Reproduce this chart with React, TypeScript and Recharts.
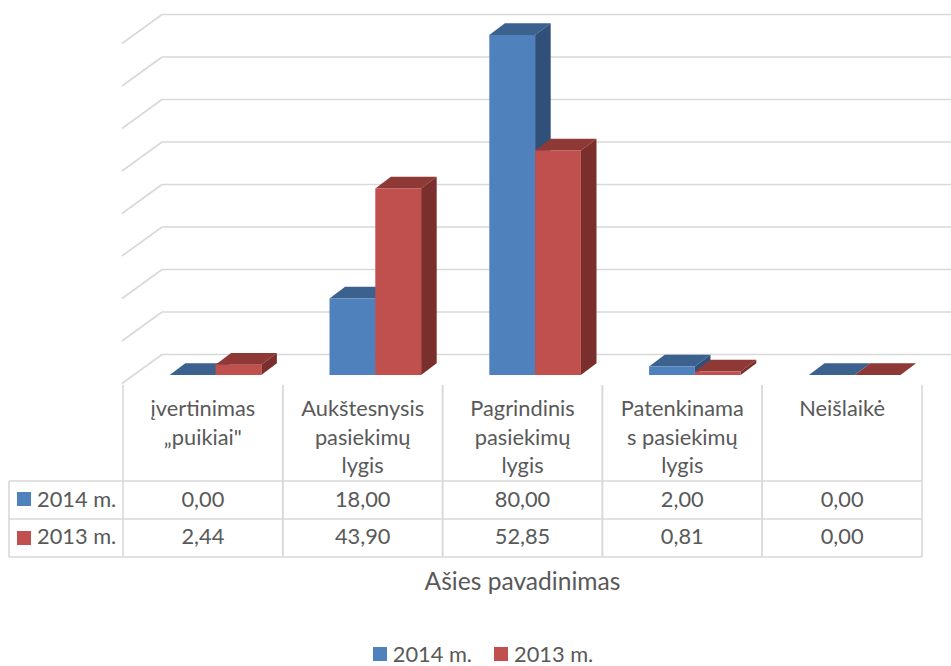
import React from 'react';
import { BarChart, Bar, XAxis, YAxis, CartesianGrid, Legend } from 'recharts';

const categories = ['įvertinimas\n„puikiai"', 'Aukštesnysis\npasiekimų\nlygis', 'Pagrindinis\npasiekimų\nlygis', 'Patenkinama\ns pasiekimų\nlygis', 'Neišlaikė'];
const values2014 = [0, 18, 80, 2, 0];
const values2013 = [2.44, 43.9, 52.85, 0.81, 0];
const axisTicks = [0, 10, 20, 30, 40, 50, 60, 70, 80];

const data = categories.map((name, i) => ({ name, y2014: values2014[i], y2013: values2013[i] }));

const FONT = 'Lato, sans-serif';
const TEXT = '#595959';
const LINE = '#d9d9d9';
const BLUE = '#4f81bd';
const RED = '#c0504d';
const FS = 21.8;

// depth of the fake 3d
const DX = 15.6;
const DY = 11.7;

const fmt = (v: number) => v.toFixed(2).replace('.', ',');

const prism = (top: string, side: string) => (props: any) => {
    const { x, y, width, height, fill } = props;
    const r = x + width;
    const b = y + height;
    return (
        <g>
            <polygon points={`${x},${y} ${x + DX},${y - DY} ${r + DX},${y - DY} ${r},${y}`} fill={top} />
            <polygon points={`${r},${y} ${r + DX},${y - DY} ${r + DX},${b - DY} ${r},${b}`} fill={side} />
            <rect x={x} y={y} width={width} height={height} fill={fill} />
        </g>
    );
};

const wallLine = (props: any) => {
    const { y1, key } = props;
    return (
        <g key={key ?? y1}>
            <line x1={122} y1={y1 + 8.5} x2={162} y2={y1 - 20.5} stroke={LINE} strokeWidth={1.6} />
            <line x1={162} y1={y1 - 20.5} x2={951} y2={y1 - 20.5} stroke={LINE} strokeWidth={1.6} />
        </g>
    );
};

// one column of the data table under the plot
const TableColumn = (props: any) => {
    const { x, payload, index } = props;
    const cx = x - 12.7;
    const left = cx - 79.9;
    const right = cx + 79.9;
    const lines = String(payload.value).split('\n');
    return (
        <g fontFamily={FONT} fontSize={FS} fill={TEXT} textAnchor="middle">
            <line x1={left} y1={385} x2={left} y2={557} stroke={LINE} strokeWidth={1.6} />
            <line x1={right} y1={385} x2={right} y2={557} stroke={LINE} strokeWidth={1.6} />
            {[481, 519, 557].map((ly) => (
                <line key={ly} x1={left} y1={ly} x2={right} y2={ly} stroke={LINE} strokeWidth={1.6} />
            ))}
            {lines.map((t, i) => (
                <text key={i} x={cx} y={416 + i * 28.5}>{t}</text>
            ))}
            <text x={cx} y={507}>{fmt(values2014[index])}</text>
            <text x={cx} y={544}>{fmt(values2013[index])}</text>
        </g>
    );
};

const BottomLegend = (props: any) => (
    <div style={{ display: 'flex', justifyContent: 'center', gap: 22, fontFamily: FONT, fontSize: FS, color: TEXT, lineHeight: '24px' }}>
        {props.payload.map((p: any) => (
            <span key={p.value} style={{ display: 'flex', alignItems: 'center' }}>
                <span style={{ width: 14, height: 14, background: p.color, marginRight: 6 }} />
                {p.value}
            </span>
        ))}
    </div>
);

export default function App() {
    return (
        <div style={{ position: 'absolute', left: 0, top: 0 }}>
            <BarChart
                width={951}
                height={666}
                data={data}
                barSize={45.8}
                barGap={0}
                margin={{ top: 35, right: 16.3, bottom: 0, left: 135.7 }}
            >
                <CartesianGrid vertical={false} horizontal={wallLine} />
                <XAxis
                    dataKey="name"
                    axisLine={false}
                    tickLine={false}
                    interval={0}
                    height={291}
                    tick={<TableColumn />}
                    label={{ value: 'Ašies pavadinimas', position: 'insideBottom', offset: 76, dx: -12.7, fontFamily: FONT, fontSize: 24.6, fill: TEXT }}
                />
                <YAxis hide domain={[0, 80]} ticks={axisTicks} />
                <Bar dataKey="y2014" name="2014 m." fill={BLUE} shape={prism('#3b618f', '#30507a')} isAnimationActive={false} />
                <Bar dataKey="y2013" name="2013 m." fill={RED} shape={prism('#8e3936', '#7b2f2c')} isAnimationActive={false} />
                <Legend
                    layout="horizontal"
                    align="center"
                    verticalAlign="middle"
                    itemSorter={null}
                    wrapperStyle={{ left: 0, top: 642, width: 966 }}
                    content={<BottomLegend />}
                />
                {/* key cells at the left of the table */}
                <g fontFamily={FONT} fontSize={FS} fill={TEXT}>
                    <line x1={9} y1={481} x2={123} y2={481} stroke={LINE} strokeWidth={1.6} />
                    <line x1={9} y1={519} x2={123} y2={519} stroke={LINE} strokeWidth={1.6} />
                    <line x1={9} y1={557} x2={123} y2={557} stroke={LINE} strokeWidth={1.6} />
                    <line x1={9} y1={481} x2={9} y2={557} stroke={LINE} strokeWidth={1.6} />
                    <rect x={17} y={492} width={14} height={14} fill={BLUE} />
                    <rect x={17} y={531} width={14} height={14} fill={RED} />
                    <text x={37} y={507}>2014 m.</text>
                    <text x={37} y={544}>2013 m.</text>
                </g>
            </BarChart>
        </div>
    );
}
